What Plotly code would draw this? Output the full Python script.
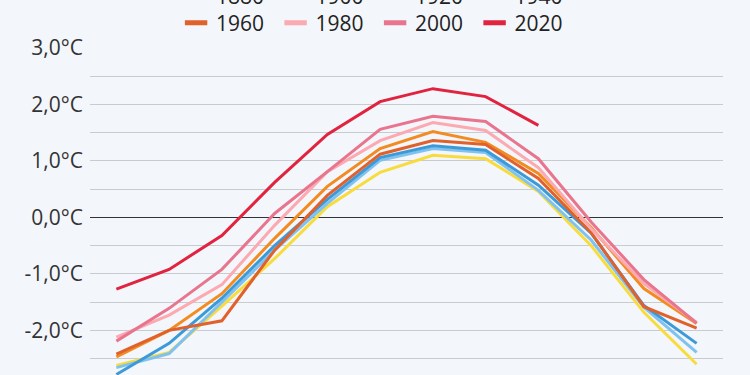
import plotly.graph_objects as go

months = ["Jan", "Feb", "Mär", "Apr", "Mai", "Jun", "Jul", "Aug", "Sep", "Okt", "Nov", "Dez"]

years = ["1880", "1900", "1920", "1940", "1960", "1980", "2000", "2020"]

v1880 = [-2.62, -2.39, -1.57, -0.73, 0.19, 0.80, 1.10, 1.04, 0.46, -0.50, -1.68, -2.60]
v1900 = [-2.66, -2.41, -1.50, -0.58, 0.25, 1.01, 1.22, 1.15, 0.48, -0.40, -1.59, -2.39]
v1920 = [-2.78, -2.23, -1.43, -0.50, 0.32, 1.06, 1.27, 1.19, 0.57, -0.28, -1.56, -2.23]
v1940 = [-2.47, -2.00, -1.35, -0.37, 0.55, 1.22, 1.52, 1.33, 0.78, -0.18, -1.26, -1.88]
v1960 = [-2.42, -2.00, -1.83, -0.58, 0.39, 1.12, 1.36, 1.29, 0.69, -0.27, -1.58, -1.96]
v1980 = [-2.12, -1.73, -1.19, -0.14, 0.81, 1.36, 1.68, 1.54, 0.88, -0.20, -1.17, -1.86]
v2000 = [-2.19, -1.61, -0.92, 0.07, 0.81, 1.56, 1.79, 1.70, 1.04, -0.08, -1.10, -1.87]
v2020 = [-1.27, -0.92, -0.32, 0.62, 1.47, 2.05, 2.28, 2.14, 1.63]

series = [v1880, v1900, v1920, v1940, v1960, v1980, v2000, v2020]
colors = ["#f8dc3e", "#80c2ef", "#3c9ad8", "#f28c22", "#e0612b", "#fca9b1", "#e8758d", "#e1233f"]

tick_vals = [-2, -1, 0, 1, 2, 3]
tick_text = ["-2,0°C", "-1,0°C", "0,0°C", "1,0°C", "2,0°C", "3,0°C"]

fig = go.Figure()
for name, vals, col in zip(years, series, colors):
    fig.add_trace(go.Scatter(x=months[:len(vals)], y=vals, mode="lines", name=name,
                             line=dict(color=col, width=3), showlegend=False))
# legend entries with short thick swatches (two rows -> two legends)
for i, (name, col) in enumerate(zip(years, colors)):
    fig.add_trace(go.Scatter(x=[None], y=[None], mode="markers", name=name,
                             legend="legend" if i < 4 else "legend2",
                             marker=dict(symbol="line-ew", size=16, color=col,
                                         line=dict(color=col, width=6))))

leg_common = dict(orientation="h", x=0.136, xanchor="left", yanchor="middle",
                  entrywidth=54.5, entrywidthmode="pixels",
                  font=dict(size=21, color="#222222", family="Open Sans"),
                  bgcolor="rgba(0,0,0,0)", traceorder="normal", itemsizing="trace")

fig.update_layout(
    width=750, height=375,
    margin=dict(l=90, r=27, t=48, b=0, autoexpand=False),
    paper_bgcolor="#f3f6fa", plot_bgcolor="#f3f6fa",
    font=dict(family="Open Sans", color="#333333"),
    showlegend=True,
    legend=dict(y=1.159, **leg_common),
    legend2=dict(y=1.0765, **leg_common),
    xaxis=dict(type="category", range=[-0.5, 11.5], showgrid=False, zeroline=False,
               showticklabels=False, showline=False, automargin=False),
    yaxis=dict(range=[-2.79, 3.0], tickvals=tick_vals, ticktext=tick_text,
               tickfont=dict(size=21, color="#333333"), ticklabelstandoff=6,
               showgrid=True, gridcolor="#c8cbcf", gridwidth=1,
               minor=dict(dtick=0.5, tick0=0, showgrid=True, gridcolor="#c8cbcf", gridwidth=1),
               zeroline=True, zerolinecolor="#333333", zerolinewidth=1,
               showline=False, automargin=False),
)

fig.write_html("out.html", config={"displayModeBar": False},
               post_script="document.body.style.margin='0px';document.body.style.background='#f3f6fa';")
